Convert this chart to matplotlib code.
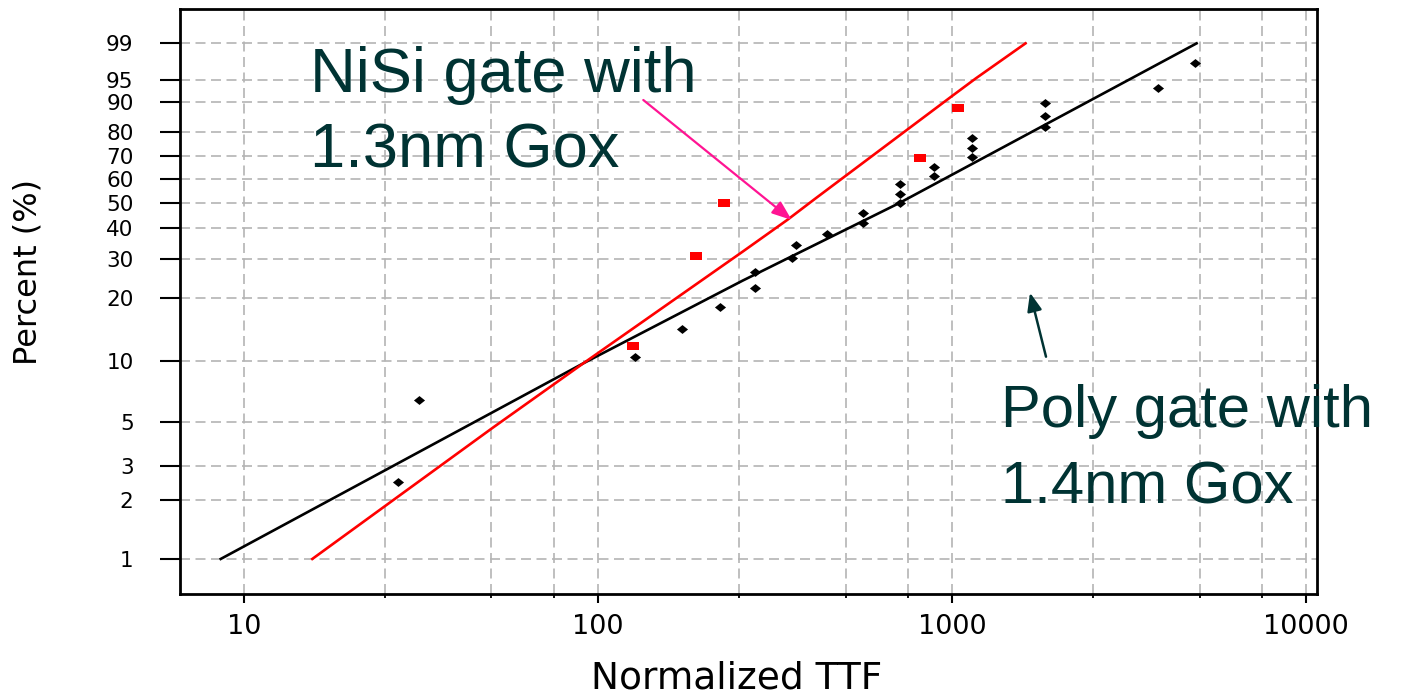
import numpy as np
import matplotlib
matplotlib.use("Agg")
import matplotlib.pyplot as plt
from matplotlib.ticker import FixedLocator, FixedFormatter, NullFormatter

# ---------------- data ----------------
poly_ttf = [27.3, 31.3, 127, 173, 221, 277, 277, 352, 363, 442, 559, 559,
            711, 711, 711, 891, 891, 1141, 1141, 1141, 1829, 1829, 1829, 3814, 4842]
poly_pct = [2.49, 6.43, 10.45, 14.3, 18.2, 22.3, 26.1, 30.2, 34.1, 37.9, 41.9, 45.9,
            49.9, 53.7, 57.9, 61.2, 65.5, 69.5, 73.5, 77.4, 81.7, 85.6, 89.5, 93.3, 97.4]

nisi_ttf = [125.5, 188.7, 226.7, 812.8, 1039]
nisi_pct = [11.9, 30.7, 49.7, 69.1, 88.1]

poly_fit_ttf = [8.6, 90.9, 255.9, 710, 4900]
poly_fit_pct = [1.0, 9.77, 24.0, 49.9, 99.0]

nisi_fit_ttf = [15.6, 50.2, 90.9, 255.9, 342.6, 411.5, 1000, 1166, 1611]
nisi_fit_pct = [1.0, 4.64, 9.77, 32.1, 43.2, 51.8, 91.5, 95.2, 99.0]

y_ticks = [1, 2, 3, 5, 10, 20, 30, 40, 50, 60, 70, 80, 90, 95, 99]
x_major = [10, 100, 1000, 10000]
x_minor = [25, 50, 75, 250, 500, 750, 2500, 5000, 7500]

label_nisi = ["NiSi gate with", "1.3nm Gox"]
label_poly = ["Poly gate with", "1.4nm Gox"]

# ---------------- figure ----------------
W, H = 1402, 694
fig = plt.figure(figsize=(W / 100, H / 100), dpi=100)
ax = fig.add_axes([180 / W, 1 - 594 / H, (1316.7 - 180) / W, (594 - 9) / H])


def fwd(p):
    p = np.clip(np.asarray(p, dtype=float), 1e-6, 100 - 1e-9)
    return np.log(-np.log1p(-p / 100.0))


def inv(w):
    w = np.asarray(w, dtype=float)
    return 100.0 * (-np.expm1(-np.exp(w)))


ax.set_xscale("log")
ax.set_yscale("function", functions=(fwd, inv))
ax.set_xlim(6.6, 10700)
ax.set_ylim(0.6605, 99.902)

grid_kw = dict(color="#b4b4b4", linestyle=(0, (6, 3.3)), linewidth=1.2)

ax.xaxis.set_major_locator(FixedLocator(x_major))
ax.xaxis.set_minor_locator(FixedLocator(x_minor))
ax.xaxis.set_major_formatter(FixedFormatter([str(v) for v in x_major]))
ax.xaxis.set_minor_formatter(NullFormatter())
ax.yaxis.set_major_locator(FixedLocator(y_ticks))
ax.yaxis.set_major_formatter(FixedFormatter([str(v) for v in y_ticks]))
ax.yaxis.set_minor_locator(FixedLocator([]))
ax.grid(True, which="both", axis="x", **grid_kw)
ax.grid(True, which="major", axis="y", **grid_kw)
ax.set_axisbelow(True)

# lines and points
ax.plot(poly_fit_ttf, poly_fit_pct, color="black", lw=1.9, zorder=3)
ax.plot(nisi_fit_ttf, nisi_fit_pct, color="#ff0000", lw=1.9, zorder=3)

diamond = [(-1, 0), (0, 0.8), (1, 0), (0, -0.8), (-1, 0)]
rect = [(-1, -0.72), (1, -0.72), (1, 0.72), (-1, 0.72), (-1, -0.72)]
ax.plot(poly_ttf, poly_pct, linestyle="none", marker=diamond, markersize=8,
        color="black", markeredgewidth=0, zorder=4)
ax.plot(nisi_ttf, nisi_pct, linestyle="none", marker=rect, markersize=8.5,
        color="#ff0000", markeredgewidth=0, zorder=4)

# spines / ticks
for s in ax.spines.values():
    s.set_linewidth(2.0)
    s.set_color("black")
ax.tick_params(axis="x", which="major", direction="out", length=6.5, width=1.5,
               pad=8, labelsize=19.5, colors="black")
ax.tick_params(axis="x", which="minor", direction="out", length=2.6, width=1.3)
ax.tick_params(axis="y", which="major", direction="out", length=14.4, width=1.5,
               pad=19, labelsize=15.5, colors="black")
ax.tick_params(top=False, right=False, which="both")

# axis labels
fig.text(736.7 / W, 1 - 688.3 / H, "Normalized TTF", ha="center", va="baseline",
         fontsize=27, family="DejaVu Sans", color="black")
fig.text(28 / W, 1 - 272 / H, "Percent (%)", ha="center", va="center",
         rotation=90, fontsize=23, family="DejaVu Sans", color="black")

# annotations
txt_color = "#003333"
fig.text(310 / W, 1 - 92 / H, label_nisi[0], ha="left", va="baseline",
         fontsize=45.5, family="Liberation Sans", color=txt_color)
fig.text(310 / W, 1 - 167 / H, label_nisi[1], ha="left", va="baseline",
         fontsize=45.5, family="Liberation Sans", color=txt_color)
fig.text(1001 / W, 1 - 427 / H, label_poly[0], ha="left", va="baseline",
         fontsize=43, family="Liberation Sans", color=txt_color)
fig.text(1001 / W, 1 - 504 / H, label_poly[1], ha="left", va="baseline",
         fontsize=43, family="Liberation Sans", color=txt_color)


def axfrac(px, py):
    return ((px - 180) / (1316.7 - 180), (594 - py) / (594 - 9))


ax.annotate("", xy=axfrac(791.7, 220), xytext=axfrac(643.3, 100),
            xycoords="axes fraction", textcoords="axes fraction",
            arrowprops=dict(arrowstyle="-|>,head_length=1.0,head_width=0.38",
                            mutation_scale=12, color="#ff1493", lw=1.6,
                            shrinkA=0, shrinkB=0), zorder=5)
ax.annotate("", xy=axfrac(1030, 292.7), xytext=axfrac(1046, 356.7),
            xycoords="axes fraction", textcoords="axes fraction",
            arrowprops=dict(arrowstyle="-|>,head_length=1.0,head_width=0.4",
                            mutation_scale=11, color=txt_color, lw=1.8,
                            shrinkA=0, shrinkB=0), zorder=5)

fig.savefig("out.png", dpi=100)
